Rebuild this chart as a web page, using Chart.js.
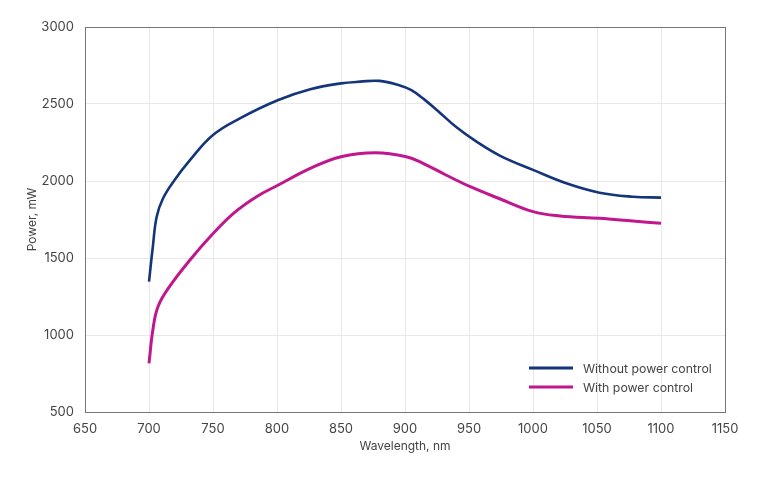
<!DOCTYPE html>
<html>
<head>
<meta charset="utf-8">
<style>
  html, body { margin: 0; padding: 0; background: #fff; }
  #wrap { width: 768px; height: 480px; }
</style>
<script src="https://cdn.jsdelivr.net/npm/chart.js@4.4.1/dist/chart.umd.min.js"></script>
</head>
<body>
<div id="wrap"><canvas id="powerChart" width="768" height="480"></canvas></div>
<script>
// values
var seriesNames = ["Without power control", "With power control"];

var wavelengthNoCtrl = [700, 703, 706, 711, 720, 732, 750, 771, 801, 826, 850, 865, 880, 896, 905, 915, 927, 940, 955, 974, 1000, 1026, 1052, 1078, 1100];
var powerNoCtrl = [1346, 1573, 1768, 1888, 2007, 2136, 2299, 2407, 2526, 2596, 2634, 2645, 2650, 2620, 2590, 2530, 2445, 2350, 2260, 2165, 2072, 1985, 1924, 1898, 1892];

var wavelengthCtrl = [700, 703, 707, 716, 732, 749, 766, 784, 801, 826, 850, 877, 901, 914, 932, 951, 973, 1000, 1021, 1052, 1078, 1100];
var powerCtrl = [816, 1032, 1184, 1314, 1487, 1649, 1790, 1898, 1974, 2082, 2158, 2184, 2158, 2115, 2039, 1963, 1888, 1801, 1773, 1758, 1740, 1725];

var xTicks = [650, 700, 750, 800, 850, 900, 950, 1000, 1050, 1100, 1150];
var yTicks = [500, 1000, 1500, 2000, 2500, 3000];

var colors = ["#14357a", "#c0178e"];
var font = "Inter, 'Liberation Sans', sans-serif";

function points(xs, ys) {
    return xs.map(function (x, i) { return { x: x, y: ys[i] }; });
}

function plain(v) {
    return String(v);
}

// box round the plot plus the legend inside, bottom right
var boxAndLegend = {
    id: 'boxAndLegend',
    afterDraw: function (chart) {
        var ctx = chart.ctx;
        var a = chart.chartArea;
        ctx.save();
        ctx.strokeStyle = "#767676";
        ctx.lineWidth = 1;
        ctx.strokeRect(a.left + 0.5, a.top + 0.5, a.right - a.left, a.bottom - a.top);

        ctx.font = "12.3px " + font;
        ctx.textBaseline = "middle";
        ctx.fillStyle = "#444";
        chart.data.datasets.forEach(function (ds, i) {
            var y = a.bottom - 44 + i * 19;
            ctx.strokeStyle = ds.borderColor;
            ctx.lineWidth = 3;
            ctx.beginPath();
            ctx.moveTo(a.right - 196, y);
            ctx.lineTo(a.right - 152, y);
            ctx.stroke();
            ctx.fillText(ds.label, a.right - 142, y + 1);
        });
        ctx.restore();
    }
};

var ctx = document.getElementById("powerChart").getContext("2d");

new Chart(ctx, {
    type: 'line',
    data: {
        datasets: [{
            label: seriesNames[0],
            data: points(wavelengthNoCtrl, powerNoCtrl),
            borderColor: colors[0],
            borderWidth: 2.6,
            pointRadius: 0,
            fill: false,
            tension: 0.4
        }, {
            label: seriesNames[1],
            data: points(wavelengthCtrl, powerCtrl),
            borderColor: colors[1],
            borderWidth: 3,
            pointRadius: 0,
            fill: false,
            tension: 0.4
        }]
    },
    options: {
        responsive: false,
        animation: false,
        layout: { padding: { left: 21, right: 43, top: 27, bottom: 22 } },
        plugins: {
            legend: { display: false },
            tooltip: { enabled: false }
        },
        scales: {
            x: {
                type: 'linear',
                min: 650,
                max: 1150,
                afterBuildTicks: function (axis) {
                    axis.ticks = xTicks.map(function (v) { return { value: v }; });
                },
                afterFit: function (axis) { axis.height = 46; },
                grid: { color: "#e8e8e8", drawTicks: false },
                border: { color: "#767676" },
                ticks: {
                    padding: 9,
                    color: "#444",
                    font: { family: font, size: 13 },
                    maxRotation: 0,
                    callback: plain
                },
                title: {
                    display: true,
                    text: "Wavelength, nm",
                    color: "#444",
                    font: { family: font, size: 12 }
                }
            },
            y: {
                min: 500,
                max: 3000,
                afterBuildTicks: function (axis) {
                    axis.ticks = yTicks.map(function (v) { return { value: v }; });
                },
                afterFit: function (axis) { axis.width = 64; },
                grid: { color: "#e8e8e8", drawTicks: false },
                border: { color: "#767676" },
                ticks: {
                    padding: 11,
                    color: "#444",
                    font: { family: font, size: 13 },
                    callback: plain
                },
                title: {
                    display: true,
                    text: "Power, mW",
                    color: "#444",
                    font: { family: font, size: 12 }
                }
            }
        }
    },
    plugins: [boxAndLegend]
});
</script>
</body>
</html>
